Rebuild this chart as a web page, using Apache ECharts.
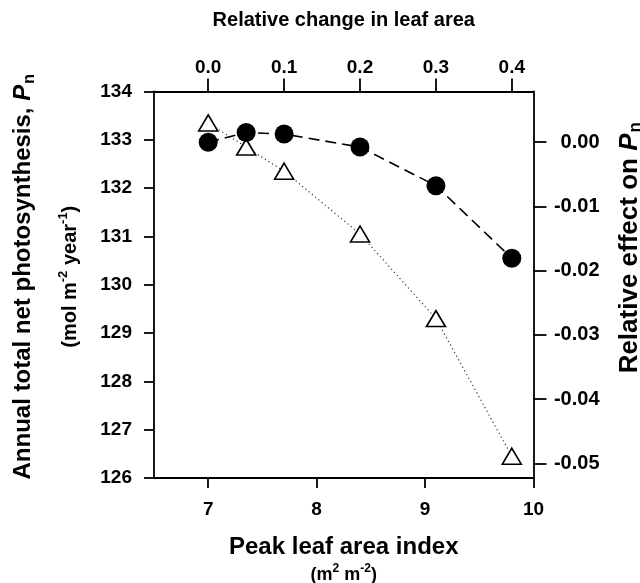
<!DOCTYPE html>
<html>
<head>
<meta charset="utf-8">
<script src="https://cdn.jsdelivr.net/npm/echarts@6/dist/echarts.min.js"></script>
<style>
  html, body { margin: 0; padding: 0; background: #fff; }
  #chart { width: 640px; height: 583px; }
</style>
</head>
<body>
<div id="chart"></div>
<script>
// ---- data ----
const peakLAI = [7.0, 7.35, 7.7, 8.4, 9.1, 9.8];
const pnFilled = [132.95, 133.15, 133.12, 132.85, 132.05, 130.55];
const pnOpen = [133.35, 132.85, 132.35, 131.05, 129.3, 126.45];

// ---- axes / ticks ----
const laiRange = [6.5, 10];
const pnRange = [126, 134];
const laiTicks = [7, 8, 9, 10];
const relLaiTicks = [0.0, 0.1, 0.2, 0.3, 0.4];
const relPnTicks = [0.00, -0.01, -0.02, -0.03, -0.04, -0.05];
const laiBase = 7.0;      // LAI at relative change 0
const pnBase = 132.95;    // Pn at relative effect 0

const FONT = "'Liberation Sans', Arial, Helvetica, sans-serif";
const BLACK = '#000';

const chart = echarts.init(document.getElementById('chart'), null, { renderer: 'canvas' });

const lineStyle = { color: BLACK, width: 1.8 };
const baseLabel = { color: BLACK, fontFamily: FONT, fontWeight: 'bold', fontSize: 19 };

const option = {
  backgroundColor: '#fff',
  animation: false,
  grid: {
    left: 154, right: 106.5, top: 91.5, bottom: 105,
    containLabel: false, outerBoundsMode: 'none'
  },
  xAxis: [
    {
      type: 'value', position: 'bottom',
      min: laiRange[0], max: laiRange[1],
      splitLine: { show: false },
      axisLine: { show: true, onZero: false, lineStyle: lineStyle },
      axisTick: { show: true, inside: false, length: 10, lineStyle: lineStyle, customValues: laiTicks },
      axisLabel: Object.assign({}, baseLabel, { margin: 22, customValues: laiTicks, formatter: v => String(v) }),
      name: '{u|Peak leaf area index}\n{s|(m}{sup|2}{s| m}{sup|-2}{s|)}',
      nameLocation: 'middle', nameGap: 55, nameMoveOverlap: false,
      nameTextStyle: {
        color: BLACK, fontFamily: FONT, fontWeight: 'bold',
        rich: {
          u: { fontSize: 24, lineHeight: 28, fontFamily: FONT, fontWeight: 'bold', color: BLACK, verticalAlign: 'middle' },
          s: { fontSize: 18, lineHeight: 28, fontFamily: FONT, fontWeight: 'bold', color: BLACK, verticalAlign: 'middle' },
          sup: { fontSize: 12, lineHeight: 12, fontFamily: FONT, fontWeight: 'bold', color: BLACK, verticalAlign: 'middle', padding: [0, 0, 12, 0] }
        }
      }
    },
    {
      type: 'value', position: 'top',
      min: laiRange[0] / laiBase - 1, max: laiRange[1] / laiBase - 1,
      splitLine: { show: false },
      axisLine: { show: true, onZero: false, lineStyle: lineStyle },
      axisTick: { show: true, inside: false, length: 13, lineStyle: lineStyle, customValues: relLaiTicks },
      axisLabel: Object.assign({}, baseLabel, { margin: 14, customValues: relLaiTicks, formatter: v => v.toFixed(1) }),
      name: 'Relative change in leaf area',
      nameLocation: 'middle', nameGap: 59, nameMoveOverlap: false,
      nameTextStyle: { color: BLACK, fontFamily: FONT, fontWeight: 'bold', fontSize: 20, lineHeight: 24 }
    }
  ],
  yAxis: [
    {
      type: 'value', position: 'left',
      min: pnRange[0], max: pnRange[1], interval: 1,
      splitLine: { show: false },
      axisLine: { show: true, onZero: false, lineStyle: lineStyle },
      axisTick: { show: true, inside: false, length: 10, lineStyle: lineStyle },
      axisLabel: Object.assign({}, baseLabel, { margin: 22 }),
      name: '{t|Annual total net photosynthesis, }{p|P}{sub|n}\n{u|(mol m}{sup|-2}{u| year}{sup|-1}{u|)}',
      nameLocation: 'middle', nameRotate: 90, nameGap: 60, nameMoveOverlap: false,
      nameTextStyle: {
        color: BLACK, fontFamily: FONT, fontWeight: 'bold', padding: [0, 0, 0, 16],
        rich: {
          t: { fontSize: 24, lineHeight: 47, fontFamily: FONT, fontWeight: 'bold', color: BLACK, verticalAlign: 'middle' },
          p: { fontSize: 24, lineHeight: 47, fontFamily: FONT, fontWeight: 'bold', fontStyle: 'italic', color: BLACK, verticalAlign: 'middle' },
          sub: { fontSize: 16, lineHeight: 16, fontFamily: FONT, fontWeight: 'bold', color: BLACK, verticalAlign: 'middle', padding: [12, 0, 0, 1] },
          u: { fontSize: 20, lineHeight: 47, fontFamily: FONT, fontWeight: 'bold', color: BLACK, verticalAlign: 'middle' },
          sup: { fontSize: 13, lineHeight: 13, fontFamily: FONT, fontWeight: 'bold', color: BLACK, verticalAlign: 'middle', padding: [0, 0, 14, 0] }
        }
      }
    },
    {
      type: 'value', position: 'right',
      min: pnRange[0] / pnBase - 1, max: pnRange[1] / pnBase - 1,
      splitLine: { show: false },
      axisLine: { show: true, onZero: false, lineStyle: lineStyle },
      axisTick: { show: true, inside: false, length: 13, lineStyle: lineStyle, customValues: relPnTicks },
      axisLabel: Object.assign({}, baseLabel, { fontSize: 20, margin: 66, align: 'right', customValues: relPnTicks, formatter: v => v.toFixed(2) }),
      name: '{t|Relative effect on }{p|P}{sub|n}',
      nameLocation: 'middle', nameRotate: 90, nameGap: 82, nameMoveOverlap: false,
      nameTextStyle: {
        color: BLACK, fontFamily: FONT, fontWeight: 'bold', padding: [0, 0, 0, 74],
        rich: {
          t: { fontSize: 26, lineHeight: 28, fontFamily: FONT, fontWeight: 'bold', color: BLACK, verticalAlign: 'middle' },
          p: { fontSize: 26, lineHeight: 28, fontFamily: FONT, fontWeight: 'bold', fontStyle: 'italic', color: BLACK, verticalAlign: 'middle' },
          sub: { fontSize: 17, lineHeight: 17, fontFamily: FONT, fontWeight: 'bold', color: BLACK, verticalAlign: 'middle', padding: [12, 0, 0, 1] }
        }
      }
    }
  ],
  series: [
    {
      name: 'open', type: 'line', xAxisIndex: 0, yAxisIndex: 0, z: 2,
      data: peakLAI.map((x, i) => [x, pnOpen[i]]),
      symbol: 'triangle', symbolSize: [19, 16],
      itemStyle: { color: '#fff', borderColor: BLACK, borderWidth: 1.6 },
      lineStyle: { color: '#333', width: 1.2, type: [1.2, 3] },
      emphasis: { disabled: true }
    },
    {
      name: 'filled', type: 'line', xAxisIndex: 0, yAxisIndex: 0, z: 3,
      data: peakLAI.map((x, i) => [x, pnFilled[i]]),
      symbol: 'circle', symbolSize: 19,
      itemStyle: { color: BLACK, borderColor: BLACK, borderWidth: 0 },
      lineStyle: { color: BLACK, width: 1.6, type: [11, 6] },
      emphasis: { disabled: true }
    }
  ]
};

chart.setOption(option);
</script>
</body>
</html>
